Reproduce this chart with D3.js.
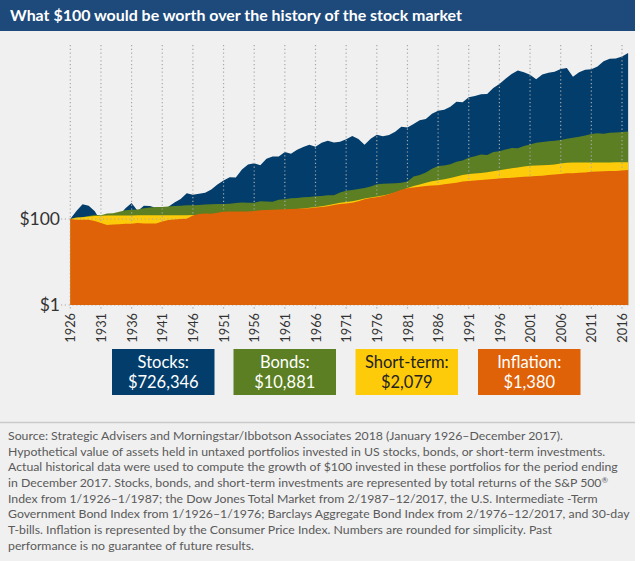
<!DOCTYPE html>
<html><head><meta charset="utf-8">
<script src="https://cdn.jsdelivr.net/npm/d3@7"></script>
<style>
html,body{margin:0;padding:0;background:#fff;}
svg{display:block;font-family:Lato,"Open Sans",sans-serif;}
</style></head>
<body>
<script>
const years = [1926,1927,1928,1929,1930,1931,1932,1933,1934,1935,1936,1937,1938,1939,1940,1941,1942,1943,1944,1945,1946,1947,1948,1949,1950,1951,1952,1953,1954,1955,1956,1957,1958,1959,1960,1961,1962,1963,1964,1965,1966,1967,1968,1969,1970,1971,1972,1973,1974,1975,1976,1977,1978,1979,1980,1981,1982,1983,1984,1985,1986,1987,1988,1989,1990,1991,1992,1993,1994,1995,1996,1997,1998,1999,2000,2001,2002,2003,2004,2005,2006,2007,2008,2009,2010,2011,2012,2013,2014,2015,2016,2017];
const stocks = [100,153,220,202,152,86,79,121,120,177,237,154,202,201,181,160,193,243,291,397,365,385,407,484,637,790,935,926,1413,1859,1981,1767,2533,2836,2849,3616,3300,4052,4720,5308,4774,5918,6573,6014,6254,7148,8504,7257,5336,7321,9065,8415,8969,10623,14069,13378,16244,19907,21149,27931,33063,34797,40560,53402,51740,67503,72643,79958,81016,111385,137009,182689,234916,284343,258456,227736,177421,228307,253162,265587,307530,324436,204405,258493,297426,303706,352314,466450,530297,537632,601930,726346];
const bonds = [100,110,111,118,126,123,134,136,148,159,164,166,177,185,190,191,195,200,204,208,210,212,216,221,223,224,227,235,241,239,238,257,254,253,282,288,304,309,321,324,339,343,358,356,416,452,475,497,526,567,645,663,670,681,698,740,978,1058,1214,1478,1700,1743,1874,2136,2306,2675,2874,3155,3063,3630,3761,4126,4485,4449,4965,5382,5937,6181,6447,6601,6885,7367,7749,8207,8740,9422,9817,9621,10198,10249,10516,10881];
const shortTerm = [100,107,110,115,118,119,120,121,121,121,121,122,122,122,122,122,122,122,123,123,124,124,126,127,129,131,133,135,136,139,142,146,148,153,157,160,164,170,175,182,191,199,210,224,238,248,258,277,299,317,334,351,376,413,459,528,584,635,699,753,800,842,898,974,1049,1107,1146,1180,1227,1296,1364,1436,1506,1577,1673,1737,1765,1782,1804,1859,1946,2035,2066,2069,2071,2071,2073,2074,2074,2075,2077,2079];
const inflation = [100,96,96,96,90,81,73,74,75,78,78,81,79,79,79,87,95,98,100,102,120,131,135,132,140,148,149,150,150,150,154,159,162,164,166,168,170,173,175,178,184,190,199,211,222,230,238,259,289,308,322,343,374,425,479,521,541,561,584,605,612,639,667,698,741,763,785,807,829,850,879,893,907,931,962,977,1001,1020,1054,1090,1117,1163,1164,1195,1213,1249,1271,1290,1299,1308,1350,1380];
const tickYears = [1926,1931,1936,1941,1946,1951,1956,1961,1966,1971,1976,1981,1986,1991,1996,2001,2006,2011,2016];
const yTicks = [1,100];
const seriesNames = ["Stocks:","Bonds:","Short-term:","Inflation:"];
const seriesColors = ["#023d6b","#5b7f22","#fdcb0a","#df6108"];
const legendTextColors = ["#ffffff","#ffffff","#222222","#ffffff"];
const title = "What $100 would be worth over the history of the stock market";
const notes = [
 "Source: Strategic Advisers and Morningstar/Ibbotson Associates 2018 (January 1926\u2013December 2017).",
 "Hypothetical value of assets held in untaxed portfolios invested in US stocks, bonds, or short-term investments.",
 "Actual historical data were used to compute the growth of $100 invested in these portfolios for the period ending",
 "in December 2017. Stocks, bonds, and short-term investments are represented by total returns of the S&P 500\u00AE",
 "Index from 1/1926\u20131/1987; the Dow Jones Total Market from 2/1987\u201312/2017, the U.S. Intermediate -Term",
 "Government Bond Index from 1/1926\u20131/1976; Barclays Aggregate Bond Index from 2/1976\u201312/2017, and 30-day",
 "T-bills. Inflation is represented by the Consumer Price Index. Numbers are rounded for simplicity. Past",
 "performance is no guarantee of future results."
];

const W = 640, H = 561;
const svg = d3.select("body").append("svg").attr("width", W).attr("height", H);

// backgrounds
svg.append("rect").attr("x",0).attr("y",0).attr("width",635).attr("height",H).attr("fill","#f0f0f0");
svg.append("rect").attr("x",0).attr("y",0).attr("width",635).attr("height",31).attr("fill","#1d4a7b");

// title
const t = svg.append("text").attr("x",10).attr("y",21).attr("fill","#fff")
  .style("font-weight","700").style("font-size","15px").text(title);
{ const w = t.node().getComputedTextLength(); t.style("font-size", (15*452/w).toFixed(2)+"px"); }

// scales
const x = d3.scaleLinear().domain([1926, 2016]).range([70.3, 622]);
const y = d3.scaleLog().domain([1, 100]).range([305, 219]);

const series = [stocks, bonds, shortTerm, inflation];
const area = vals => d3.area()
  .x((d,i) => x(years[i]))
  .y0(y(1))
  .y1(d => y(d))(vals);

// stocks, bonds, short-term
for (let k = 0; k < 3; k++) {
  svg.append("path").attr("d", area(series[k])).attr("fill", seriesColors[k]);
}

// gridlines
const grid = svg.append("g").attr("stroke","#a8a8a8").attr("stroke-width",1.2).attr("stroke-dasharray","1.2,2.6");
grid.selectAll("line.v").data(tickYears).join("line").attr("class","v")
  .attr("x1", d => x(d)).attr("x2", d => x(d)).attr("y1", 45).attr("y2", y(1)+6);
grid.selectAll("line.h").data(yTicks).join("line").attr("class","h")
  .attr("x1", 61).attr("x2", x(2017)).attr("y1", d => y(d)).attr("y2", d => y(d));

// inflation on top
svg.append("path").attr("d", area(inflation)).attr("fill", seriesColors[3]);

// x axis labels
const xAxis = svg.append("g").attr("transform", `translate(0,${y(1)})`)
  .call(d3.axisBottom(x).tickValues(tickYears).tickFormat(d3.format("d")).tickSize(0));
xAxis.select(".domain").remove();
xAxis.selectAll("text")
  .attr("transform","rotate(-90)").attr("x",-8).attr("y",0).attr("dy","0.36em")
  .style("text-anchor","end").style("font-size","12.8px").style("font-family","Lato, sans-serif").attr("fill","#333");

// y axis labels
const yAxis = svg.append("g").attr("transform", `translate(70,0)`)
  .call(d3.axisLeft(y).tickValues(yTicks).tickFormat(d => "$" + d).tickSize(0).tickPadding(10));
yAxis.select(".domain").remove();
yAxis.selectAll("text").style("font-size","17.5px").style("font-family","Lato, sans-serif").attr("fill","#333");

// legend
const lx = [112, 233.5, 355.5, 478];
series.forEach((vals, k) => {
  const g = svg.append("g").attr("transform", `translate(${lx[k]},349)`);
  g.append("rect").attr("width",102.5).attr("height",46).attr("fill",seriesColors[k]);
  g.append("text").attr("x",51.25).attr("y",19).attr("text-anchor","middle")
    .attr("fill",legendTextColors[k]).style("font-size","16.5px").text(seriesNames[k]);
  g.append("text").attr("x",51.25).attr("y",39).attr("text-anchor","middle")
    .attr("fill",legendTextColors[k]).style("font-size","16.5px").text(d3.format("$,")(vals[vals.length-1]));
});

// separator
svg.append("line").attr("x1",0).attr("x2",635).attr("y1",422.5).attr("y2",422.5).attr("stroke","#c9c9c9").attr("stroke-width",1.5);

// footnotes
const fn = svg.append("g").attr("fill","#5a5a5a").style("font-size","12px");
const lines = fn.selectAll("text").data(notes).join("text")
  .attr("x",8).attr("y",(d,i)=>440 + i*15.65);
lines.each(function(d){
  const el = d3.select(this);
  if (d.endsWith("\u00AE")) {
    el.append("tspan").text(d.slice(0,-1));
    el.append("tspan").attr("dy","-4").style("font-size","8px").text("\u00AE");
  } else el.text(d);
});
let maxW = 0;
lines.each(function(){ maxW = Math.max(maxW, this.getComputedTextLength()); });
fn.style("font-size", (12*622/maxW).toFixed(2)+"px");
</script>
</body></html>
